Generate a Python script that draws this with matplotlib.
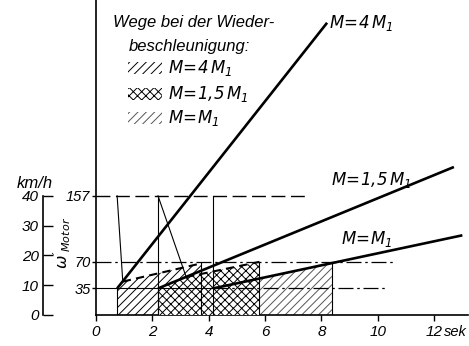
import matplotlib
matplotlib.use("Agg")
import matplotlib.pyplot as plt
from matplotlib.patches import Polygon, Rectangle

W, H = 469, 346
FAM = ["Liberation Sans Narrow", "Liberation Sans", "DejaVu Sans"]
plt.rcParams["font.family"] = FAM
plt.rcParams["font.style"] = "italic"
plt.rcParams["mathtext.fontset"] = "custom"
plt.rcParams["mathtext.it"] = "Liberation Sans Narrow:italic"
plt.rcParams["mathtext.rm"] = "Liberation Sans Narrow:italic"
plt.rcParams["hatch.linewidth"] = 0.7

# --- data -------------------------------------------------------------
labels = [r"$M\!=\!4\,M_1$", r"$M\!=\!1{,}5\,M_1$", r"$M\!=\!M_1$"]
start_t = [0.75, 2.2, 4.15]        # begin of re-acceleration [s]
end_t = [8.2, 12.7, 13.0]          # end of drawn motor-speed line [s]
end_w = [385, 195, 105]            # motor speed at line end
shift_t = [0.95, 3.2, 4.15]        # where the drop line meets the run-up
shift_w = [44, 50, 35]
stop_t = [3.73, 5.8, 8.37]         # end of the hatched path area
stop_w = [68, 70, 70]
w_low, w_mid, w_max = 35, 70, 157
kmh_ticks = [0, 10, 20, 30, 40]
kmh_max = 40                       # 40 km/h corresponds to w_max
x_ticks = [0, 2, 4, 6, 8, 10, 12]
hatches = ["////", "xxxx", "////"]
hatch_cols = ["black", "black", "#555555"]

def px(x, y):
    return x / W, 1 - y / H

fig = plt.figure(figsize=(W / 100, H / 100), dpi=100)
fig.patch.set_facecolor("white")
ax = fig.add_axes([96 / W, 31 / H, (468 - 96) / W, 315 / H])
ax.set_xlim(0, 13.2)
ax.set_ylim(0, 415)
for s in ["top", "right"]:
    ax.spines[s].set_visible(False)
for s in ["left", "bottom"]:
    ax.spines[s].set_linewidth(1.2)

# hatched path areas (drawing order keeps the 1,5 M1 pattern on top)
def region(k):
    return [(start_t[k], 0), (start_t[k], w_low), (shift_t[k], shift_w[k]),
            (stop_t[k], stop_w[k]), (stop_t[k], 0)]

for k in [0, 2, 1]:
    ax.add_patch(Polygon(region(k), closed=True, facecolor="white",
                         edgecolor=hatch_cols[k], hatch=hatches[k],
                         linewidth=0, zorder=2 + (k == 1)))

thin = dict(color="black", lw=0.8, zorder=5)
# region edges
for k in range(3):
    ax.plot([start_t[k], start_t[k]], [0, w_low], **thin)
    ax.plot([stop_t[k], stop_t[k]], [0, stop_w[k]], **thin)

# reference speed levels
ax.plot([0, 7.5], [w_max, w_max], color="black", lw=1.0, dashes=(10, 4), zorder=5)
ax.plot([0, 10.6], [w_mid, w_mid], color="black", lw=0.9, dashes=(12, 3, 2, 3), zorder=5)
ax.plot([0, start_t[2]], [w_low, w_low], **thin)
ax.plot([start_t[2], 10.3], [w_low, w_low], color="black", lw=0.9,
        dashes=(12, 3, 2, 3), zorder=5)

# speed drops from w_max
ax.plot([start_t[0], shift_t[0]], [w_max, shift_w[0]], **thin)
ax.plot([start_t[1], start_t[1]], [0, w_max], **thin)
ax.plot([start_t[1], shift_t[1]], [w_max, shift_w[1]], **thin)
ax.plot([start_t[2], start_t[2]], [w_low, w_max], **thin)

# continued run-up after the shift (dashed)
for k in [0, 1]:
    ax.plot([shift_t[k], stop_t[k]], [shift_w[k], stop_w[k]], color="black",
            lw=1.5, dashes=(4, 2.5), zorder=6)

# motor speed lines for the three torques
for k in range(3):
    ax.plot([start_t[k], end_t[k]], [w_low, end_w[k]], color="black",
            lw=1.9, solid_capstyle="butt", zorder=7)

ax.text(8.25, 385, labels[0], fontsize=12, ha="left", va="center")
ax.text(8.35, 178, labels[1], fontsize=12, ha="left", va="center")
ax.text(8.7, 100, labels[2], fontsize=12, ha="left", va="center")

# axes ticks
ax.set_xticks(x_ticks)
ax.set_xticklabels([str(v) for v in x_ticks], fontsize=11)
ax.tick_params(axis="x", direction="out", length=4, width=1, pad=3)
ax.set_yticks([w_low, w_mid, w_max])
ax.set_yticklabels([str(v) for v in [w_low, w_mid, w_max]], fontsize=10.5)
ax.tick_params(axis="y", direction="out", length=3, width=1, pad=1)
ax.annotate("sek", xy=(12.36, 0), xycoords=("data", "axes fraction"),
            xytext=(0, -7), textcoords="offset points",
            fontsize=10.5, ha="left", va="top")

# km/h scale
ax2 = fig.add_axes([43 / W, 31 / H, 0.001, 315 / H])
ax2.set_ylim(0, 415)
ax2.set_xticks([])
for s in ["top", "right", "bottom"]:
    ax2.spines[s].set_visible(False)
ax2.spines["left"].set_linewidth(1.2)
ax2.spines["left"].set_bounds(0, w_max)
ax2.patch.set_alpha(0)
ax2.set_yticks([w_max * v / kmh_max for v in kmh_ticks])
ax2.set_yticklabels([str(v) for v in kmh_ticks], fontsize=11)
ax2.tick_params(axis="y", direction="in", length=7, width=1, pad=3)
fig.text(*px(35, 183), "km/h", fontsize=12, ha="center", va="center")
fig.text(*px(62, 243), r"$\omega'_{Motor}$", fontsize=11.5, ha="center",
         va="center", rotation=90)

# legend
fig.text(*px(113, 22), "Wege bei der Wieder-", fontsize=12, ha="left", va="center")
fig.text(*px(129, 47), "beschleunigung:", fontsize=12, ha="left", va="center")
for k, yc in enumerate([68, 94, 118]):
    x0, y0 = px(128, yc + 6)
    fig.patches.append(Rectangle((x0, y0), 34 / W, 12 / H, transform=fig.transFigure,
                                 facecolor="white", edgecolor=hatch_cols[k],
                                 hatch=hatches[k], linewidth=0))
    fig.text(*px(168, yc), labels[k], fontsize=12, ha="left", va="center")

fig.savefig("out.png", dpi=100, facecolor="white")
